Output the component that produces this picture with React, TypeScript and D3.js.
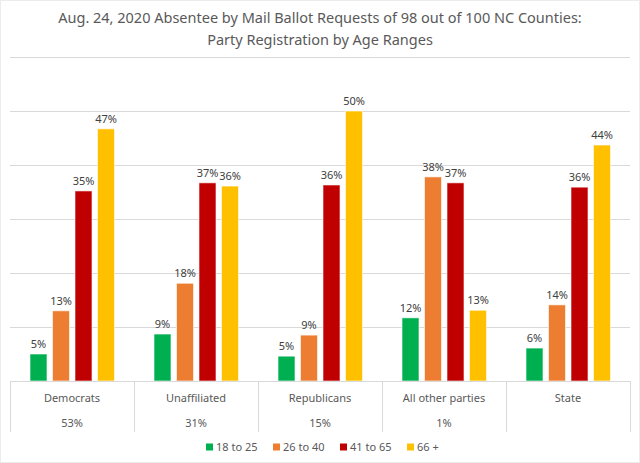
import { useRef, useEffect } from 'react';
import * as d3 from 'd3';

const WIDTH = 640;
const HEIGHT = 463;
const PLOT = { left: 10, right: 630, top: 57, bottom: 381 };

const categories = ['Democrats', 'Unaffiliated', 'Republicans', 'All other parties', 'State'];
const categoryShares = ['53%', '31%', '15%', '1%', ''];
const ageRanges = ['18 to 25', '26 to 40', '41 to 65', '66 +'];
const colors = ['#00b050', '#ed7d31', '#c00000', '#ffc000'];

// percent values per age range, one entry per category
const age18to25 = [5.0, 8.7, 4.6, 11.7, 6.1];
const age26to40 = [13.0, 18.1, 8.5, 37.8, 14.1];
const age41to65 = [35.2, 36.7, 36.3, 36.7, 35.9];
const age66plus = [46.7, 36.1, 50.0, 13.1, 43.7];
const series = [age18to25, age26to40, age41to65, age66plus];

const yTicks = [0, 10, 20, 30, 40, 50, 60];

const FONT = '"Noto Sans", sans-serif';

export default function App() {
  const svgRef = useRef<SVGSVGElement>(null);

  useEffect(() => {
    document.body.style.margin = '0';
    if (!svgRef.current) return;
    const svg = d3.select(svgRef.current);
    svg.selectAll('*').remove();

    svg.append('rect')
      .attr('x', 0.5).attr('y', 0.5)
      .attr('width', WIDTH - 1).attr('height', HEIGHT - 1)
      .attr('fill', '#fff').attr('stroke', '#ececec');

    // Title
    const title = svg.append('text')
      .attr('text-anchor', 'middle')
      .attr('font-family', FONT)
      .attr('font-size', '14.5px')
      .attr('fill', '#595959');
    title.append('tspan').attr('x', WIDTH / 2).attr('y', 23)
      .text('Aug. 24, 2020 Absentee by Mail Ballot Requests of 98 out of 100 NC Counties:');
    title.append('tspan').attr('x', WIDTH / 2).attr('y', 45)
      .text('Party Registration by Age Ranges');

    const x0 = d3.scaleBand<string>().domain(categories).range([PLOT.left, PLOT.right]);
    const x1 = d3.scaleBand<number>().domain(d3.range(ageRanges.length))
      .range([20, 104.5]).paddingInner(0.244);
    const y = d3.scaleLinear().domain([0, 60]).range([PLOT.bottom, PLOT.top]);

    // Grid lines
    svg.append('g')
      .attr('stroke', '#d9d9d9')
      .selectAll('line')
      .data(yTicks.slice(1))
      .join('line')
      .attr('x1', PLOT.left).attr('x2', PLOT.right)
      .attr('y1', (d) => y(d) + 0.5).attr('y2', (d) => y(d) + 0.5);

    // Bars
    const groups = svg.append('g')
      .selectAll('g')
      .data(categories)
      .join('g')
      .attr('transform', (c) => `translate(${x0(c)},0)`);

    groups.selectAll('rect')
      .data((_, ci) => series.map((s, si) => ({ si, v: s[ci] })))
      .join('rect')
      .attr('x', (d) => x1(d.si)!)
      .attr('y', (d) => y(d.v))
      .attr('width', x1.bandwidth())
      .attr('height', (d) => y(0) - y(d.v))
      .attr('fill', (d) => colors[d.si])
      .attr('stroke', '#fff')
      .attr('stroke-opacity', 0.6)
      .attr('stroke-width', 1);

    groups.selectAll('text')
      .data((_, ci) => series.map((s, si) => ({ si, v: s[ci] })))
      .join('text')
      .attr('x', (d) => x1(d.si)! + x1.bandwidth() / 2)
      .attr('y', (d) => y(d.v) - 6)
      .attr('text-anchor', 'middle')
      .attr('font-family', FONT)
      .attr('font-size', '11px')
      .attr('fill', '#404040')
      .text((d) => `${Math.round(d.v)}%`);

    // Category axis
    const axis = svg.append('g').attr('stroke', '#d9d9d9');
    axis.append('line')
      .attr('x1', PLOT.left).attr('x2', PLOT.right)
      .attr('y1', PLOT.bottom + 0.5).attr('y2', PLOT.bottom + 0.5);
    axis.selectAll('line.tick')
      .data([...categories.map((c) => x0(c)!), PLOT.right])
      .join('line')
      .attr('class', 'tick')
      .attr('x1', (d) => d + 0.5).attr('x2', (d) => d + 0.5)
      .attr('y1', PLOT.bottom).attr('y2', 432);

    const labels = svg.append('g')
      .attr('font-family', FONT)
      .attr('font-size', '11px')
      .attr('fill', '#595959')
      .attr('text-anchor', 'middle');
    labels.selectAll('text.cat')
      .data(categories)
      .join('text')
      .attr('class', 'cat')
      .attr('x', (c) => x0(c)! + x0.bandwidth() / 2)
      .attr('y', 402)
      .text((c) => c);
    labels.selectAll('text.share')
      .data(categoryShares)
      .join('text')
      .attr('class', 'share')
      .attr('x', (_, i) => x0(categories[i])! + x0.bandwidth() / 2)
      .attr('y', 427)
      .text((s) => s);

    // Legend
    const legendX = [206, 273, 340, 407];
    const legend = svg.append('g')
      .selectAll('g')
      .data(ageRanges)
      .join('g')
      .attr('transform', (_, i) => `translate(${legendX[i]},447)`);
    legend.append('rect')
      .attr('x', 0).attr('y', -3.5)
      .attr('width', 7).attr('height', 7)
      .attr('fill', (_, i) => colors[i]);
    legend.append('text')
      .attr('x', 10).attr('y', 4)
      .attr('font-family', FONT)
      .attr('font-size', '11px')
      .attr('fill', '#595959')
      .text((d) => d);
  }, []);

  return <svg ref={svgRef} width={WIDTH} height={HEIGHT} style={{ display: 'block' }} />;
}
